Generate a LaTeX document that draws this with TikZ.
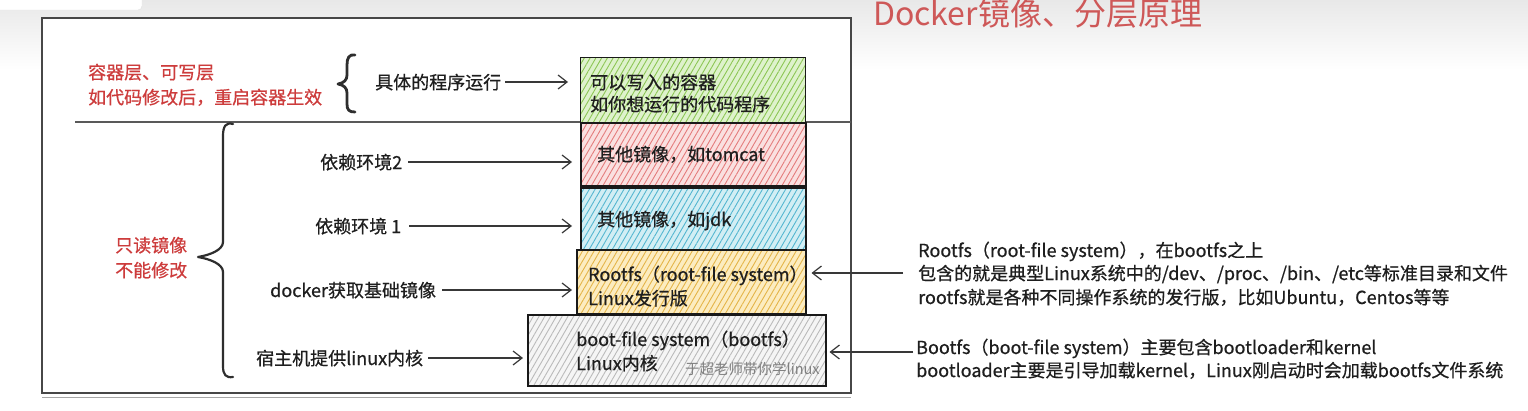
\documentclass[tikz,border=0pt]{standalone}
\usepackage{fontspec}
\setmainfont{Noto Sans CJK SC}
\newfontfamily\medfont{Noto Sans CJK SC}[FakeBold=0.6]
\usetikzlibrary{arrows.meta,patterns.meta}
\definecolor{titlered}{RGB}{206,88,88}
\definecolor{redtxt}{RGB}{205,60,60}
\definecolor{txt}{RGB}{30,30,30}
\definecolor{greenbg}{RGB}{222,242,204}
\definecolor{greenln}{RGB}{140,198,84}
\definecolor{pinkbg}{RGB}{250,224,224}
\definecolor{pinkln}{RGB}{228,124,124}
\definecolor{bluebg}{RGB}{210,238,244}
\definecolor{blueln}{RGB}{84,182,208}
\definecolor{yellowbg}{RGB}{252,236,192}
\definecolor{yellowln}{RGB}{228,180,72}
\definecolor{graybg}{RGB}{245,245,245}
\definecolor{grayln}{RGB}{186,186,186}
\tikzset{
  lbl/.style={anchor=west, inner sep=0pt, text=txt, font=\medfont\fontsize{18}{20}\selectfont, text height=16pt, text depth=2pt},
  redlbl/.style={lbl, text=redtxt},
  layer/.style={draw=black!90, line width=1.5pt, anchor=north west, inner sep=0pt},
  hatch/.style 2 args={preaction={fill=#1}, pattern={Lines[angle=60,distance=5pt,line width=0.9pt]}, pattern color=#2},
  arr/.style={draw=black!78, line width=1.3pt, -{Straight Barb[length=9pt,width=14pt,line width=1.2pt]}},
  brace/.style={draw=black!82, line width=2.8pt, line cap=round, line join=round},
}
\begin{document}
\begin{tikzpicture}[x=1pt,y=-1pt]
\useasboundingbox (0,0) rectangle (1528,410);
% background
\fill[white] (0,0) rectangle (1528,410);
\shade[top color=black!9, bottom color=white] (0,0) rectangle (1528,70);
\filldraw[fill=white, draw=black!12, rounded corners=4pt] (-10,-10) rectangle (142,10);
% frame
\fill[white] (42,18) rectangle (851,393);
\draw[black!72, line width=1.7pt] (42,18) rectangle (851,393);
\draw[black!35, line width=1pt] (42,397) -- (851,397);
\draw[black!65, line width=1.5pt] (75,122) -- (851,122);
% title
\node[anchor=west, inner sep=0pt, text=titlered, font=\fontsize{32}{34}\selectfont] (title) at (873,13) {Docker镜像、分层原理};
% layer boxes
\node[layer, hatch={greenbg}{greenln}, minimum width=225pt, minimum height=65pt] (green) at (580,57) {};
\node[layer, hatch={pinkbg}{pinkln}, minimum width=225pt, minimum height=63pt] (pink) at (580,122) {};
\node[layer, hatch={bluebg}{blueln}, minimum width=225pt, minimum height=62pt] (blue) at (580,187) {};
\node[layer, hatch={yellowbg}{yellowln}, minimum width=229pt, minimum height=64pt] (yellow) at (576,249) {};
\node[layer, hatch={graybg}{grayln}, minimum width=298pt, minimum height=71pt] (gray) at (527,314) {};
% box texts
\node[lbl] (g1) at (590,82) {可以写入的容器};
\node[lbl] (g2) at (590,104) {如你想运行的代码程序};
\node[lbl] (p1) at (597,154) {其他镜像，如tomcat};
\node[lbl] (b1) at (597,219) {其他镜像，如jdk};
\node[lbl] (y1) at (588,274) {Rootfs（root-file system）};
\node[lbl] (y2) at (588,298) {Linux发行版};
\node[lbl] (gr1) at (576,339) {boot-file system（bootfs）};
\node[lbl] (gr2) at (576,363) {Linux内核};
\node[lbl, text=black!50, font=\fontsize{14.5}{16}\selectfont, text height=12pt, text depth=2pt] (wm) at (685,369) {于超老师带你学linux};
% left labels
\node[redlbl] (red1) at (88,72) {容器层、可写层};
\node[redlbl] (red2) at (88,97) {如代码修改后，重启容器生效};
\node[redlbl] (red3) at (115,245) {只读镜像};
\node[redlbl] (red4) at (115,270) {不能修改};
\node[lbl] (run) at (375,82) {具体的程序运行};
\node[lbl] (dep2) at (320,162) {依赖环境2};
\node[lbl] (dep1) at (315,226) {依赖环境 1};
\node[lbl] (dock) at (270,290) {docker获取基础镜像};
\node[lbl] (host) at (256,358) {宿主机提供linux内核};
% right labels
\node[lbl] (rt1) at (918,250) {Rootfs（root-file system），在bootfs之上};
\node[lbl] (rt2) at (918,273) {包含的就是典型Linux系统中的/dev、/proc、/bin、/etc等标准目录和文件};
\node[lbl] (rt3) at (918,297) {rootfs就是各种不同操作系统的发行版，比如Ubuntu，Centos等等};
\node[lbl] (bt1) at (916,347) {Bootfs（boot-file system）主要包含bootloader和kernel};
\node[lbl] (bt2) at (916,370) {bootloader主要是引导加载kernel，Linux刚启动时会加载bootfs文件系统};
% braces
\draw[brace] (355,55) .. controls (349,54) and (347,58) .. (347,65) -- (347,75) .. controls (347,80) and (344,83) .. (338,84) .. controls (344,85) and (347,88) .. (347,93) -- (347,104) .. controls (347,110) and (349,112) .. (355,112);
\draw[brace, line width=2.2pt] (233,124) .. controls (226,122) and (223,126) .. (223,136) -- (223,242) .. controls (223,250) and (210,255) .. (198,257) .. controls (210,259) and (223,264) .. (223,272) -- (223,366) .. controls (223,375) and (226,378) .. (233,377);
% arrows
\draw[arr, shorten <=4pt, shorten >=12pt] (run.east) -- (run.east -| green.west);
\draw[arr, shorten <=6pt, shorten >=8pt] (dep2.east) -- (dep2.east -| pink.west);
\draw[arr, shorten <=8pt, shorten >=8pt] (dep1.east) -- (dep1.east -| blue.west);
\draw[arr, shorten <=6pt, shorten >=4pt] (dock.east) -- (dock.east -| yellow.west);
\draw[arr, shorten <=5pt, shorten >=4pt] (host.east) -- (host.east -| gray.west);
\draw[arr, shorten <=15pt, shorten >=5pt] (rt2.west) -- (rt2.west -| yellow.east);
\coordinate (bt0) at (913,352);
\draw[arr, shorten >=3pt] (bt0) -- (bt0 -| gray.east);
\end{tikzpicture}
\end{document}
